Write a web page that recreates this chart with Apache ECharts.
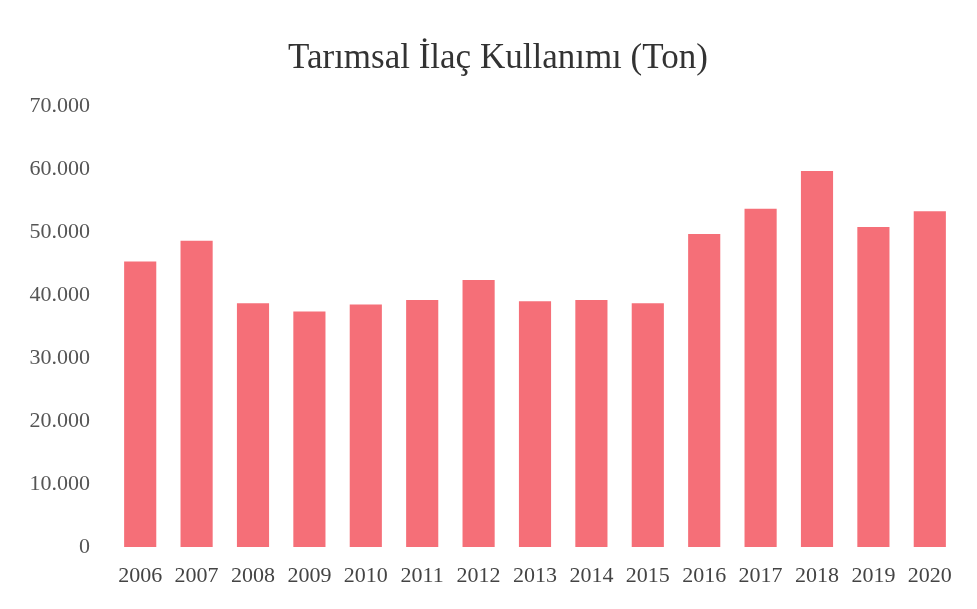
<!DOCTYPE html>
<html>
<head>
<meta charset="utf-8">
<script src="https://cdn.jsdelivr.net/npm/echarts@6/dist/echarts.min.js"></script>
<style>html,body{margin:0;padding:0;background:#fff;}#c{width:977px;height:609px;}</style>
</head>
<body>
<div id="c"></div>
<script>
const titleText = 'Tarımsal İlaç Kullanımı (Ton)';
const years = ['2006','2007','2008','2009','2010','2011','2012','2013','2014','2015','2016','2017','2018','2019','2020'];
const values = [45300, 48600, 38700, 37400, 38500, 39200, 42400, 39000, 39200, 38700, 49700, 53700, 59700, 50800, 53300];

const chart = echarts.init(document.getElementById('c'));
chart.setOption({
  backgroundColor: '#ffffff',
  animation: false,
  title: {
    text: titleText,
    left: 283,
    top: 36,
    textStyle: { fontFamily: 'Liberation Serif', fontSize: 35, fontWeight: 'normal', color: '#333' }
  },
  grid: { left: 112, right: 19, top: 106, bottom: 62 },
  xAxis: {
    type: 'category',
    data: years,
    axisLine: { show: false },
    axisTick: { show: false },
    axisLabel: { interval: 0, hideOverlap: false, fontFamily: 'Liberation Serif', fontSize: 22, color: '#444', margin: 18 }
  },
  yAxis: {
    type: 'value',
    min: 0, max: 70000, interval: 10000,
    splitLine: { show: false },
    axisLine: { show: false },
    axisTick: { show: false },
    axisLabel: {
      fontFamily: 'Liberation Serif', fontSize: 22, color: '#555', margin: 22,
      formatter: v => v === 0 ? '0' : (v / 1000).toFixed(0) + '.000'
    }
  },
  series: [{
    type: 'bar',
    data: values,
    barWidth: '57%',
    itemStyle: { color: '#F56F78' }
  }]
});
</script>
</body>
</html>
